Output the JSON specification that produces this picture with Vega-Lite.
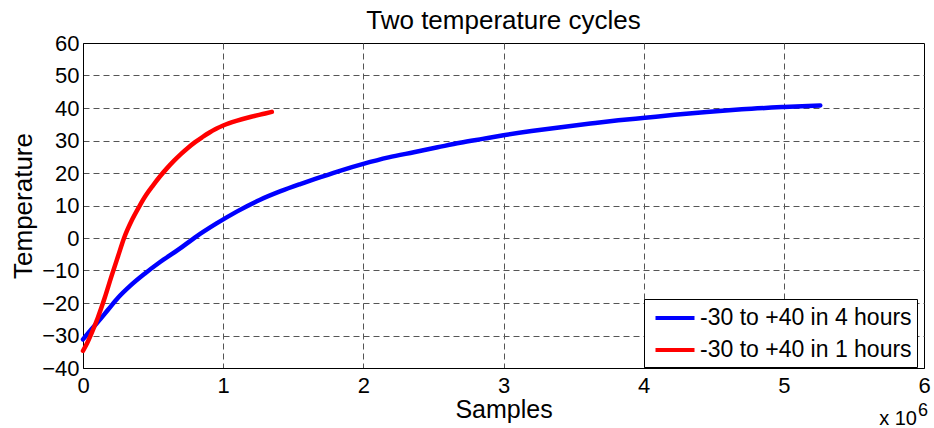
{
  "$schema": "https://vega.github.io/schema/vega-lite/v6.json",
  "width": 841,
  "height": 325,
  "autosize": {"type": "none"},
  "padding": {"left": 83, "top": 43, "right": 10, "bottom": 60},
  "background": "white",
  "config": {"font": "Liberation Sans", "view": {"stroke": "black", "strokeWidth": 1}},
  "title": {"text": "Two temperature cycles", "fontSize": 26, "fontWeight": "normal", "color": "black", "baseline": "alphabetic", "offset": 10, "dy": 33, "anchor": "middle", "frame": "group", "font": "Liberation Sans"},
  "datasets": {
    "curves": [
      {"samples": 0, "temp": -31.2, "series": "-30 to +40 in 4 hours"},
      {"samples": 50000, "temp": -28.6, "series": "-30 to +40 in 4 hours"},
      {"samples": 107000, "temp": -25.8, "series": "-30 to +40 in 4 hours"},
      {"samples": 180000, "temp": -22.0, "series": "-30 to +40 in 4 hours"},
      {"samples": 250000, "temp": -18.4, "series": "-30 to +40 in 4 hours"},
      {"samples": 340000, "temp": -14.6, "series": "-30 to +40 in 4 hours"},
      {"samples": 440000, "temp": -11.0, "series": "-30 to +40 in 4 hours"},
      {"samples": 550000, "temp": -7.4, "series": "-30 to +40 in 4 hours"},
      {"samples": 680000, "temp": -3.6, "series": "-30 to +40 in 4 hours"},
      {"samples": 800000, "temp": 0.2, "series": "-30 to +40 in 4 hours"},
      {"samples": 950000, "temp": 4.4, "series": "-30 to +40 in 4 hours"},
      {"samples": 1100000, "temp": 8.2, "series": "-30 to +40 in 4 hours"},
      {"samples": 1260000, "temp": 11.7, "series": "-30 to +40 in 4 hours"},
      {"samples": 1410000, "temp": 14.4, "series": "-30 to +40 in 4 hours"},
      {"samples": 1550000, "temp": 16.6, "series": "-30 to +40 in 4 hours"},
      {"samples": 1700000, "temp": 18.8, "series": "-30 to +40 in 4 hours"},
      {"samples": 1850000, "temp": 20.9, "series": "-30 to +40 in 4 hours"},
      {"samples": 2000000, "temp": 22.8, "series": "-30 to +40 in 4 hours"},
      {"samples": 2180000, "temp": 24.8, "series": "-30 to +40 in 4 hours"},
      {"samples": 2360000, "temp": 26.4, "series": "-30 to +40 in 4 hours"},
      {"samples": 2530000, "temp": 27.9, "series": "-30 to +40 in 4 hours"},
      {"samples": 2690000, "temp": 29.3, "series": "-30 to +40 in 4 hours"},
      {"samples": 2850000, "temp": 30.5, "series": "-30 to +40 in 4 hours"},
      {"samples": 3000000, "temp": 31.6, "series": "-30 to +40 in 4 hours"},
      {"samples": 3200000, "temp": 32.9, "series": "-30 to +40 in 4 hours"},
      {"samples": 3410000, "temp": 34.1, "series": "-30 to +40 in 4 hours"},
      {"samples": 3620000, "temp": 35.2, "series": "-30 to +40 in 4 hours"},
      {"samples": 3820000, "temp": 36.2, "series": "-30 to +40 in 4 hours"},
      {"samples": 4010000, "temp": 37.0, "series": "-30 to +40 in 4 hours"},
      {"samples": 4220000, "temp": 37.9, "series": "-30 to +40 in 4 hours"},
      {"samples": 4450000, "temp": 38.8, "series": "-30 to +40 in 4 hours"},
      {"samples": 4700000, "temp": 39.6, "series": "-30 to +40 in 4 hours"},
      {"samples": 5000000, "temp": 40.3, "series": "-30 to +40 in 4 hours"},
      {"samples": 5260000, "temp": 40.8, "series": "-30 to +40 in 4 hours"},
      {"samples": 0, "temp": -34.7, "series": "-30 to +40 in 1 hours"},
      {"samples": 30000, "temp": -32.3, "series": "-30 to +40 in 1 hours"},
      {"samples": 60000, "temp": -29.4, "series": "-30 to +40 in 1 hours"},
      {"samples": 105000, "temp": -24.6, "series": "-30 to +40 in 1 hours"},
      {"samples": 155000, "temp": -18.4, "series": "-30 to +40 in 1 hours"},
      {"samples": 200000, "temp": -12.2, "series": "-30 to +40 in 1 hours"},
      {"samples": 250000, "temp": -5.6, "series": "-30 to +40 in 1 hours"},
      {"samples": 293000, "temp": 0.0, "series": "-30 to +40 in 1 hours"},
      {"samples": 350000, "temp": 5.6, "series": "-30 to +40 in 1 hours"},
      {"samples": 400000, "temp": 9.6, "series": "-30 to +40 in 1 hours"},
      {"samples": 450000, "temp": 13.2, "series": "-30 to +40 in 1 hours"},
      {"samples": 500000, "temp": 16.2, "series": "-30 to +40 in 1 hours"},
      {"samples": 550000, "temp": 19.0, "series": "-30 to +40 in 1 hours"},
      {"samples": 600000, "temp": 21.5, "series": "-30 to +40 in 1 hours"},
      {"samples": 650000, "temp": 23.8, "series": "-30 to +40 in 1 hours"},
      {"samples": 700000, "temp": 25.9, "series": "-30 to +40 in 1 hours"},
      {"samples": 750000, "temp": 27.8, "series": "-30 to +40 in 1 hours"},
      {"samples": 800000, "temp": 29.5, "series": "-30 to +40 in 1 hours"},
      {"samples": 850000, "temp": 31.0, "series": "-30 to +40 in 1 hours"},
      {"samples": 900000, "temp": 32.4, "series": "-30 to +40 in 1 hours"},
      {"samples": 950000, "temp": 33.6, "series": "-30 to +40 in 1 hours"},
      {"samples": 1000000, "temp": 34.6, "series": "-30 to +40 in 1 hours"},
      {"samples": 1100000, "temp": 36.1, "series": "-30 to +40 in 1 hours"},
      {"samples": 1200000, "temp": 37.3, "series": "-30 to +40 in 1 hours"},
      {"samples": 1300000, "temp": 38.3, "series": "-30 to +40 in 1 hours"},
      {"samples": 1347000, "temp": 38.8, "series": "-30 to +40 in 1 hours"}
    ]
  },
  "layer": [
    {
      "data": {"name": "curves"},
      "mark": {"type": "line", "strokeWidth": 4.5, "strokeCap": "round", "strokeJoin": "round", "interpolate": "monotone"},
      "encoding": {
        "x": {
          "field": "samples", "type": "quantitative",
          "scale": {"domain": [0, 6000000], "nice": false, "zero": false},
          "axis": {
            "values": [0, 1000000, 2000000, 3000000, 4000000, 5000000, 6000000],
            "labelExpr": "format(datum.value / 1000000, 'd')",
            "title": "Samples", "titleFontSize": 25, "titleFontWeight": "normal", "titleColor": "black",
            "titleY": 49, "titleBaseline": "alphabetic",
            "labelFontSize": 22, "labelColor": "black", "labelPadding": 7, "labelFlush": false, "labelOverlap": false,
            "ticks": false, "domainColor": "black", "domainWidth": 1,
            "grid": true, "gridColor": "#555555", "gridDash": [6, 4], "gridWidth": 1,
            "gridOpacity": {"condition": {"test": "datum.value === 0 || datum.value === 6000000", "value": 0}, "value": 1}
          }
        },
        "y": {
          "field": "temp", "type": "quantitative",
          "scale": {"domain": [-40, 60], "nice": false, "zero": false},
          "axis": {
            "values": [-40, -30, -20, -10, 0, 10, 20, 30, 40, 50, 60],
            "tickCount": 11,
            "title": "Temperature", "titleFontSize": 26, "titleFontWeight": "normal", "titleColor": "black",
            "titleX": -52, "titleY": 162.5, "titleAlign": "center", "titleBaseline": "alphabetic", "titleAngle": 270,
            "labelFontSize": 22, "labelColor": "black", "labelPadding": 4, "labelFlush": false, "labelOverlap": false,
            "ticks": false, "domainColor": "black", "domainWidth": 1,
            "grid": true, "gridColor": "#555555", "gridDash": [6, 4], "gridWidth": 1,
            "gridOpacity": {"condition": {"test": "datum.value === -40 || datum.value === 60", "value": 0}, "value": 1}
          }
        },
        "color": {
          "field": "series", "type": "nominal",
          "scale": {"domain": ["-30 to +40 in 4 hours", "-30 to +40 in 1 hours"], "range": ["#0000ff", "#ff0000"]},
          "legend": {
            "orient": "none", "legendX": 561, "legendY": 256, "title": null,
            "labelFontSize": 23, "labelColor": "black", "labelFont": "Liberation Sans", "labelLimit": 400,
            "symbolType": "M-0.625,0H2.625", "symbolSize": 576, "symbolStrokeWidth": 4,
            "padding": 5, "rowPadding": 6, "labelOffset": 23,
            "strokeColor": "black", "fillColor": "white", "cornerRadius": 0
          }
        }
      }
    },
    {
      "data": {"values": [{}]},
      "mark": {"type": "text", "text": "x 10", "fontSize": 20, "align": "right", "baseline": "alphabetic", "dx": -7, "dy": 57, "color": "black"},
      "encoding": {"x": {"datum": 6000000, "type": "quantitative"}, "y": {"datum": -40, "type": "quantitative"}}
    },
    {
      "data": {"values": [{}]},
      "mark": {"type": "text", "text": "6", "fontSize": 18, "align": "left", "baseline": "alphabetic", "dx": -6, "dy": 48, "color": "black"},
      "encoding": {"x": {"datum": 6000000, "type": "quantitative"}, "y": {"datum": -40, "type": "quantitative"}}
    }
  ]
}
